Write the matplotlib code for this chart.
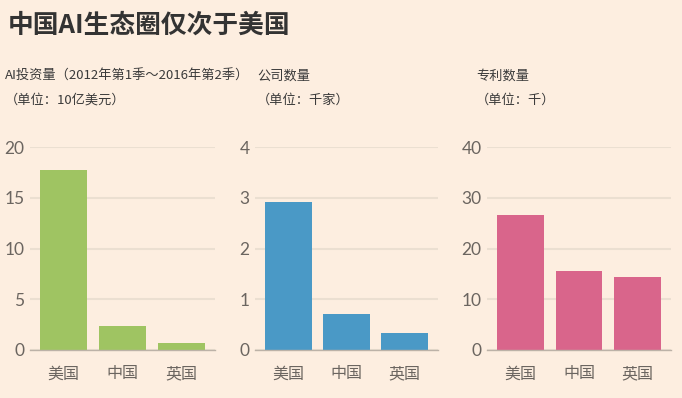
import matplotlib.pyplot as plt

plt.rcParams['font.family'] = ['Noto Sans CJK SC', 'DejaVu Sans']

countries = ["美国", "中国", "英国"]
investment = [17.7, 2.4, 0.66]      # 10亿美元
companies = [2.91, 0.70, 0.34]      # 千家
patents = [26.6, 15.5, 14.4]        # 千

BG = "#fdeee0"
GRID = "#ebdfd1"
AXIS = "#bcb2a7"
TICK = "#6b6560"

panels = [
    (investment, "#9fc462", 20, [0, 5, 10, 15, 20], 30, 215,
     "AI投资量（2012年第1季～2016年第2季）", "（单位：10亿美元）", 5),
    (companies, "#4a99c6", 4, [0, 1, 2, 3, 4], 255, 438,
     "公司数量", "（单位：千家）", 257),
    (patents, "#d9658b", 40, [0, 10, 20, 30, 40], 487, 671,
     "专利数量", "（单位：千）", 476),
]

W, H = 682, 398
fig = plt.figure(figsize=(W / 100, H / 100), dpi=100)
fig.patch.set_facecolor(BG)

fig.text(8 / W, 1 - 25 / H, "中国AI生态圈仅次于美国", fontsize=18.5,
         fontweight="bold", color="#333333", va="center", ha="left")

y0, y1 = 350, 147
for values, color, ymax, ticks, xl, xr, head, unit, tx in panels:
    ax = fig.add_axes([xl / W, (H - y0) / H, (xr - xl) / W, (y0 - y1) / H])
    ax.set_facecolor(BG)
    ax.bar(range(len(values)), values, width=0.8, color=color, zorder=3)
    ax.set_xlim(-0.57, 2.57)
    ax.set_ylim(0, ymax)
    ax.set_yticks(ticks)
    ax.set_yticklabels([str(t) for t in ticks], family="Lato", fontsize=12.5, color=TICK)
    ax.set_xticks(range(len(countries)))
    ax.set_xticklabels(countries, fontsize=11.5, color=TICK)
    ax.tick_params(axis="y", length=0, pad=4)
    ax.tick_params(axis="x", length=0, pad=11)
    ax.grid(axis="y", color=GRID, linewidth=1.5, zorder=0)
    for s in ["top", "right", "left"]:
        ax.spines[s].set_visible(False)
    ax.spines["bottom"].set_color(AXIS)
    ax.spines["bottom"].set_linewidth(1)
    ax.spines["bottom"].set_zorder(4)

    fig.text(tx / W, 1 - 76 / H, head, fontsize=9.5, color="#3a3a3a",
             va="center", ha="left")
    fig.text(tx / W, 1 - 100 / H, unit, fontsize=9.5, color="#3a3a3a",
             va="center", ha="left")

fig.savefig("out.png", dpi=100, facecolor=BG)
